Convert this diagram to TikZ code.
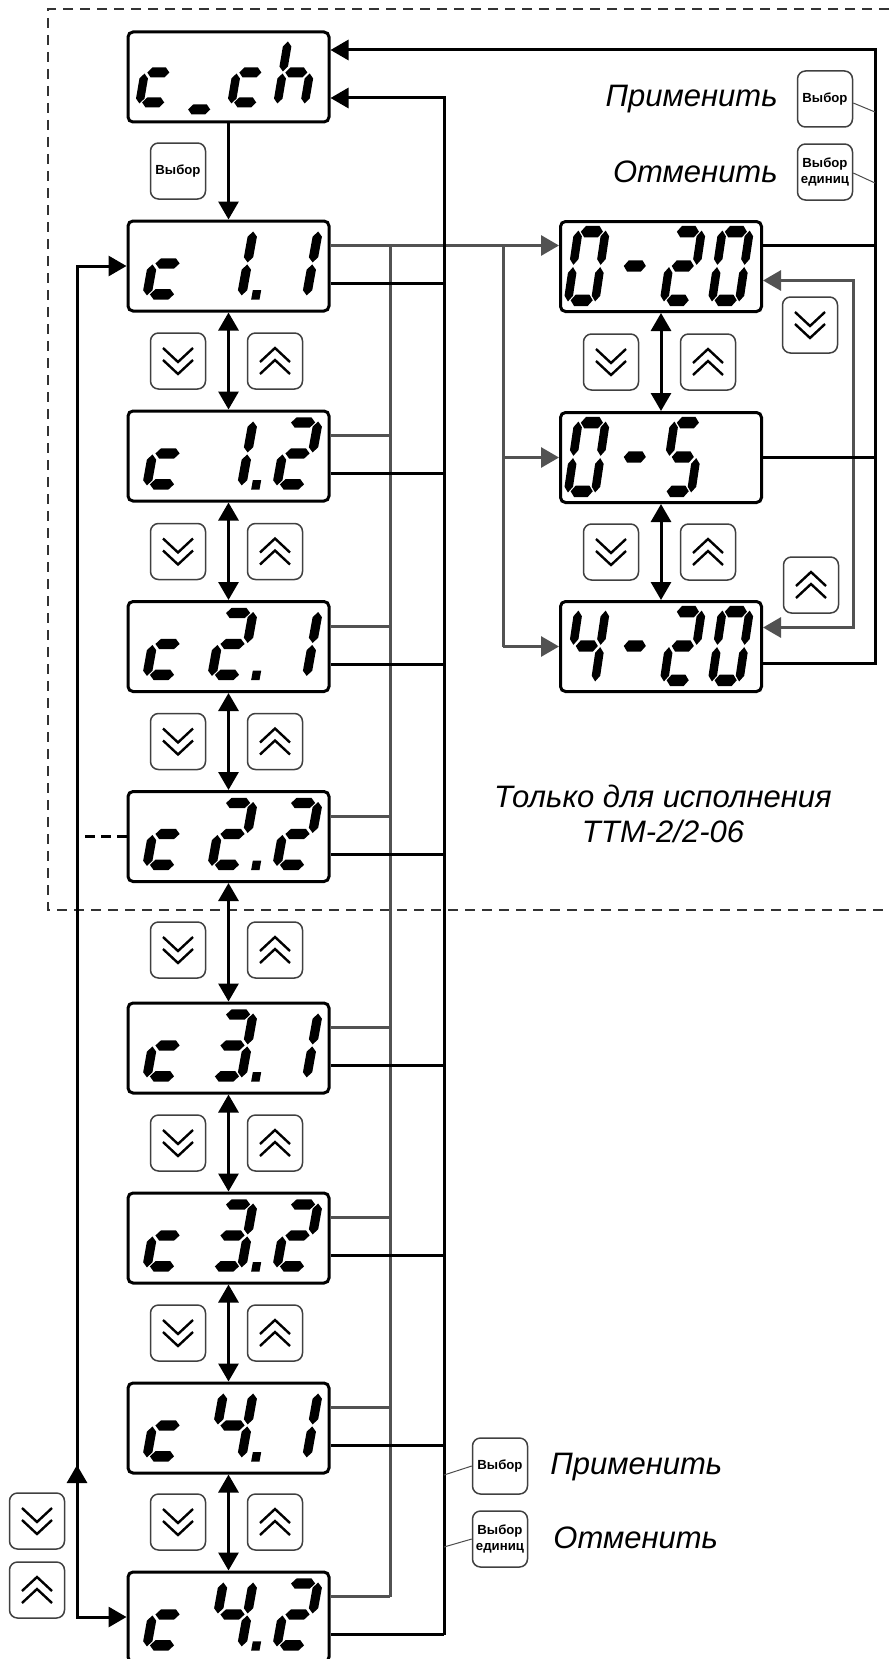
\documentclass[tikz,border=0pt]{standalone}
\usepackage{fontspec}
\setmainfont{Liberation Sans}
\usetikzlibrary{arrows.meta,calc}

\newcommand\lblfont{\fontsize{15.5pt}{17.5pt}\selectfont\itshape}
\newcommand\btnfont{\fontsize{6.6pt}{7.6pt}\selectfont\bfseries}

% seven segment cell, 42 x 70 units
\newcommand\hseg[3]{\fill (#1,#3) -- ({#1+5},{#3+5}) -- ({#2-5},{#3+5}) -- (#2,#3) -- ({#2-5},{#3-5}) -- ({#1+5},{#3-5}) -- cycle;}
\newcommand\vseg[3]{\fill (#3,#1) -- ({#3+5},{#1+5}) -- ({#3+5},{#2-5}) -- (#3,#2) -- ({#3-5},{#2-5}) -- ({#3-5},{#1+5}) -- cycle;}
\newcommand\sega{\hseg{8}{34}{65}}
\newcommand\segb{\vseg{36}{66}{37}}
\newcommand\segc{\vseg{4}{34}{37}}
\newcommand\segd{\hseg{8}{34}{5}}
\newcommand\sege{\vseg{4}{34}{5}}
\newcommand\segf{\vseg{36}{66}{5}}
\newcommand\segg{\hseg{8}{34}{35}}
\newcommand\segp{\fill (48,0) rectangle (57,9);}
\newcommand\segdigit[6]{\begin{scope}[shift={($(#1.north west)+(#2,#3)$)}, yscale=-1, xscale=#4, yscale=#5, xslant=-0.2]
  \foreach \s in {#6} {\csname seg\s\endcsname}
\end{scope}}
\newcommand\chcell[3]{\segdigit{#1}{#2}{77}{0.85}{1}{#3}}
\newcommand\lcell[3]{\segdigit{#1}{#2}{80}{0.93}{1.03}{#3}}
\newcommand\rcell[3]{\segdigit{#1}{#2}{86}{0.85}{1.143}{#3}}
\newcommand\cdisp[3]{\lcell{#1}{15}{g,e,d}\lcell{#1}{80}{#2,p}\lcell{#1}{145}{#3}}

\newcommand\chevdn[1]{\draw[chev, shift={(#1.center)}] (-15,-13) -- (0,1) -- (15,-13) (-15,-1) -- (0,13) -- (15,-1);}
\newcommand\chevup[1]{\draw[chev, shift={(#1.center)}] (-15,13) -- (0,-1) -- (15,13) (-15,1) -- (0,-13) -- (15,1);}

\begin{document}
\begin{tikzpicture}[x=0.5pt, y=-0.5pt, >={Triangle[length=9pt,width=10pt]},
  disp/.style={draw, line width=1.5pt, rounded corners=2.5pt, minimum width=100.5pt, minimum height=45pt, inner sep=0pt},
  btn/.style={draw=black!75, line width=0.75pt, rounded corners=4pt, minimum width=27.5pt, minimum height=28pt, inner sep=0pt, align=center, font=\btnfont},
  chev/.style={line width=1.2pt},
  bus/.style={line width=1.5pt},
  gbus/.style={line width=1.5pt, black!68},
  wire/.style={line width=0.5pt, black!70},
  lbl/.style={font=\lblfont, inner sep=0pt},
  zone/.style={line width=1pt, black!80, dash pattern=on 5pt off 3.5pt}]
\useasboundingbox (0,0) rectangle (889,1659);

\draw[zone] (889,9) -- (48,9) -- (48,910) -- (889,910);

% displays
\node[disp] (cch) at (228.5,77) {};
\foreach \n/\y in {c11/266, c12/456, c21/646.5, c22/836.5, c31/1048, c32/1238, c41/1428, c42/1617}
  \node[disp] (\n) at (228.5,\y) {};
\node[disp] (r020) at (661,266.5) {};
\node[disp] (r05) at (661,457.5) {};
\node[disp] (r420) at (661,646.5) {};

\chcell{cch}{8}{g,e,d}
\segdigit{cch}{54}{84}{0.85}{1}{d}
\chcell{cch}{100}{g,e,d}
\chcell{cch}{146}{f,e,g,c}
\cdisp{c11}{b,c}{b,c}
\cdisp{c12}{b,c}{a,b,g,e,d}
\cdisp{c21}{a,b,g,e,d}{b,c}
\cdisp{c22}{a,b,g,e,d}{a,b,g,e,d}
\cdisp{c31}{a,b,g,c,d}{b,c}
\cdisp{c32}{a,b,g,c,d}{a,b,g,e,d}
\cdisp{c41}{f,g,b,c}{b,c}
\cdisp{c42}{f,g,b,c}{a,b,g,e,d}
\rcell{r020}{4}{a,b,c,d,e,f}
\rcell{r020}{52}{g}
\rcell{r020}{100}{a,b,g,e,d}
\rcell{r020}{148}{a,b,c,d,e,f}
\rcell{r05}{4}{a,b,c,d,e,f}
\rcell{r05}{52}{g}
\rcell{r05}{100}{a,f,g,c,d}
\rcell{r420}{4}{f,g,b,c}
\rcell{r420}{52}{g}
\rcell{r420}{100}{a,b,g,e,d}
\rcell{r420}{148}{a,b,c,d,e,f}

% keys
\node[btn] (sel0) at (178,171) {Выбор};
\node[btn] (selA) at (825,99) {Выбор};
\node[btn] (selB) at (825,172) {Выбор\\единиц};
\node[btn] (selC) at (500,1466) {Выбор};
\node[btn] (selD) at (500,1539) {Выбор\\единиц};
\foreach \n/\y in {1/361, 2/551.5, 3/741.5, 4/950, 5/1143, 6/1333, 7/1522} {
  \node[btn] (dn\n) at (178,\y) {};
  \node[btn] (up\n) at (275,\y) {};
  \chevdn{dn\n} \chevup{up\n}
}
\node[btn] (rdn1) at (611,362) {};
\node[btn] (rup1) at (708,362) {};
\node[btn] (rdn2) at (611,552) {};
\node[btn] (rup2) at (708,552) {};
\node[btn] (rdn3) at (810,325) {};
\node[btn] (rup3) at (811,585) {};
\node[btn] (ldn) at (37,1521) {};
\node[btn] (lup) at (37,1590) {};
\chevdn{rdn1} \chevup{rup1} \chevdn{rdn2} \chevup{rup2}
\chevdn{rdn3} \chevup{rup3} \chevdn{ldn} \chevup{lup}

\node[lbl, anchor=base east] (apA) at (778,107) {Применить};
\node[lbl, anchor=base east] (ccA) at (778,182) {Отменить};
\node[lbl, anchor=base west] (apB) at (550,1474) {Применить};
\node[lbl, anchor=base west] (ccB) at (553,1548) {Отменить};
\node[lbl, align=center, anchor=base] (note) at (663,842) {Только для исполнения\\ТТМ-2/2-06};

% buses
\coordinate (gx) at (390,0);
\coordinate (gy) at (503,0);
\coordinate (gz) at (853,0);
\coordinate (bx) at (444,0);
\coordinate (rx) at (875,0);
\coordinate (lx) at (77,0);
\coordinate (lmid) at (77,1465);
\foreach \n in {c11,c12,c21,c22,c31,c32,c41,c42} {
  \coordinate (g\n) at ([yshift=-13pt]\n.north east);
  \coordinate (k\n) at ([yshift=-32pt]\n.north east);
}
\coordinate (kcch) at ([yshift=-33.75pt]cch.north east);
\coordinate (tcch) at ([yshift=-9.75pt]cch.north east);
\coordinate (kr1) at ([yshift=-12.75pt]r020.north east);
\coordinate (kr3) at ([yshift=-31.75pt]r420.north east);
\coordinate (ra) at ([yshift=-30.25pt]r020.north east);
\coordinate (rb) at ([yshift=-13.75pt]r420.north east);

\draw[gbus] (gc11 -| gx) -- (gc42 -| gx);
\draw[gbus, ->] (gc11) -- (gc11 -| r020.west);
\draw[gbus] (gc11 -| gy) -- (r420.west -| gy);
\draw[gbus, ->] (r05.west -| gy) -- (r05.west);
\draw[gbus, ->] (r420.west -| gy) -- (r420.west);
\foreach \n in {c12,c21,c22,c31,c32,c41,c42}
  \draw[gbus] (g\n) -- (g\n -| gx);
\draw[gbus, <->] (ra) -| (gz |- rb) -- (rb);

\foreach \n in {c11,c12,c21,c22,c31,c32,c41,c42}
  \draw[bus] (k\n) -- (k\n -| bx);
\draw[bus, <-] (kcch) -| (bx |- kc42);
\draw[bus, <-] (tcch) -| (rx |- kr3) -- (kr3);
\draw[bus] (kr1) -- (kr1 -| rx);
\draw[bus] (r05.east) -- (r05.east -| rx);

\draw[bus, ->] (cch) -- (c11);
\foreach \a/\b in {c11/c12, c12/c21, c21/c22, c22/c31, c31/c32, c32/c41, c41/c42}
  \draw[bus, <->] (\a) -- (\b);
\draw[bus, <->] (r020) -- (r05);
\draw[bus, <->] (r05) -- (r420);

\draw[bus, <->] (c11.west) -| (lx |- c42.west) -- (c42.west);
\draw[bus, ->] (lx |- c42.west) -- (lmid);
\draw[bus, dash pattern=on 5pt off 3pt] (c22.west) -- (c22.west -| lx);

\draw[wire] ([yshift=-2pt]selA.east) -- ($(selA.east -| rx)+(0,13)$);
\draw[wire] ([yshift=-0.5pt]selB.east) -- ($(selB.east -| rx)+(0,11)$);
\draw[wire] (selC.west) -- ($(selC.west -| bx)+(0,9)$);
\draw[wire] (selD.west) -- ($(selD.west -| bx)+(0,8)$);
\end{tikzpicture}
\end{document}
